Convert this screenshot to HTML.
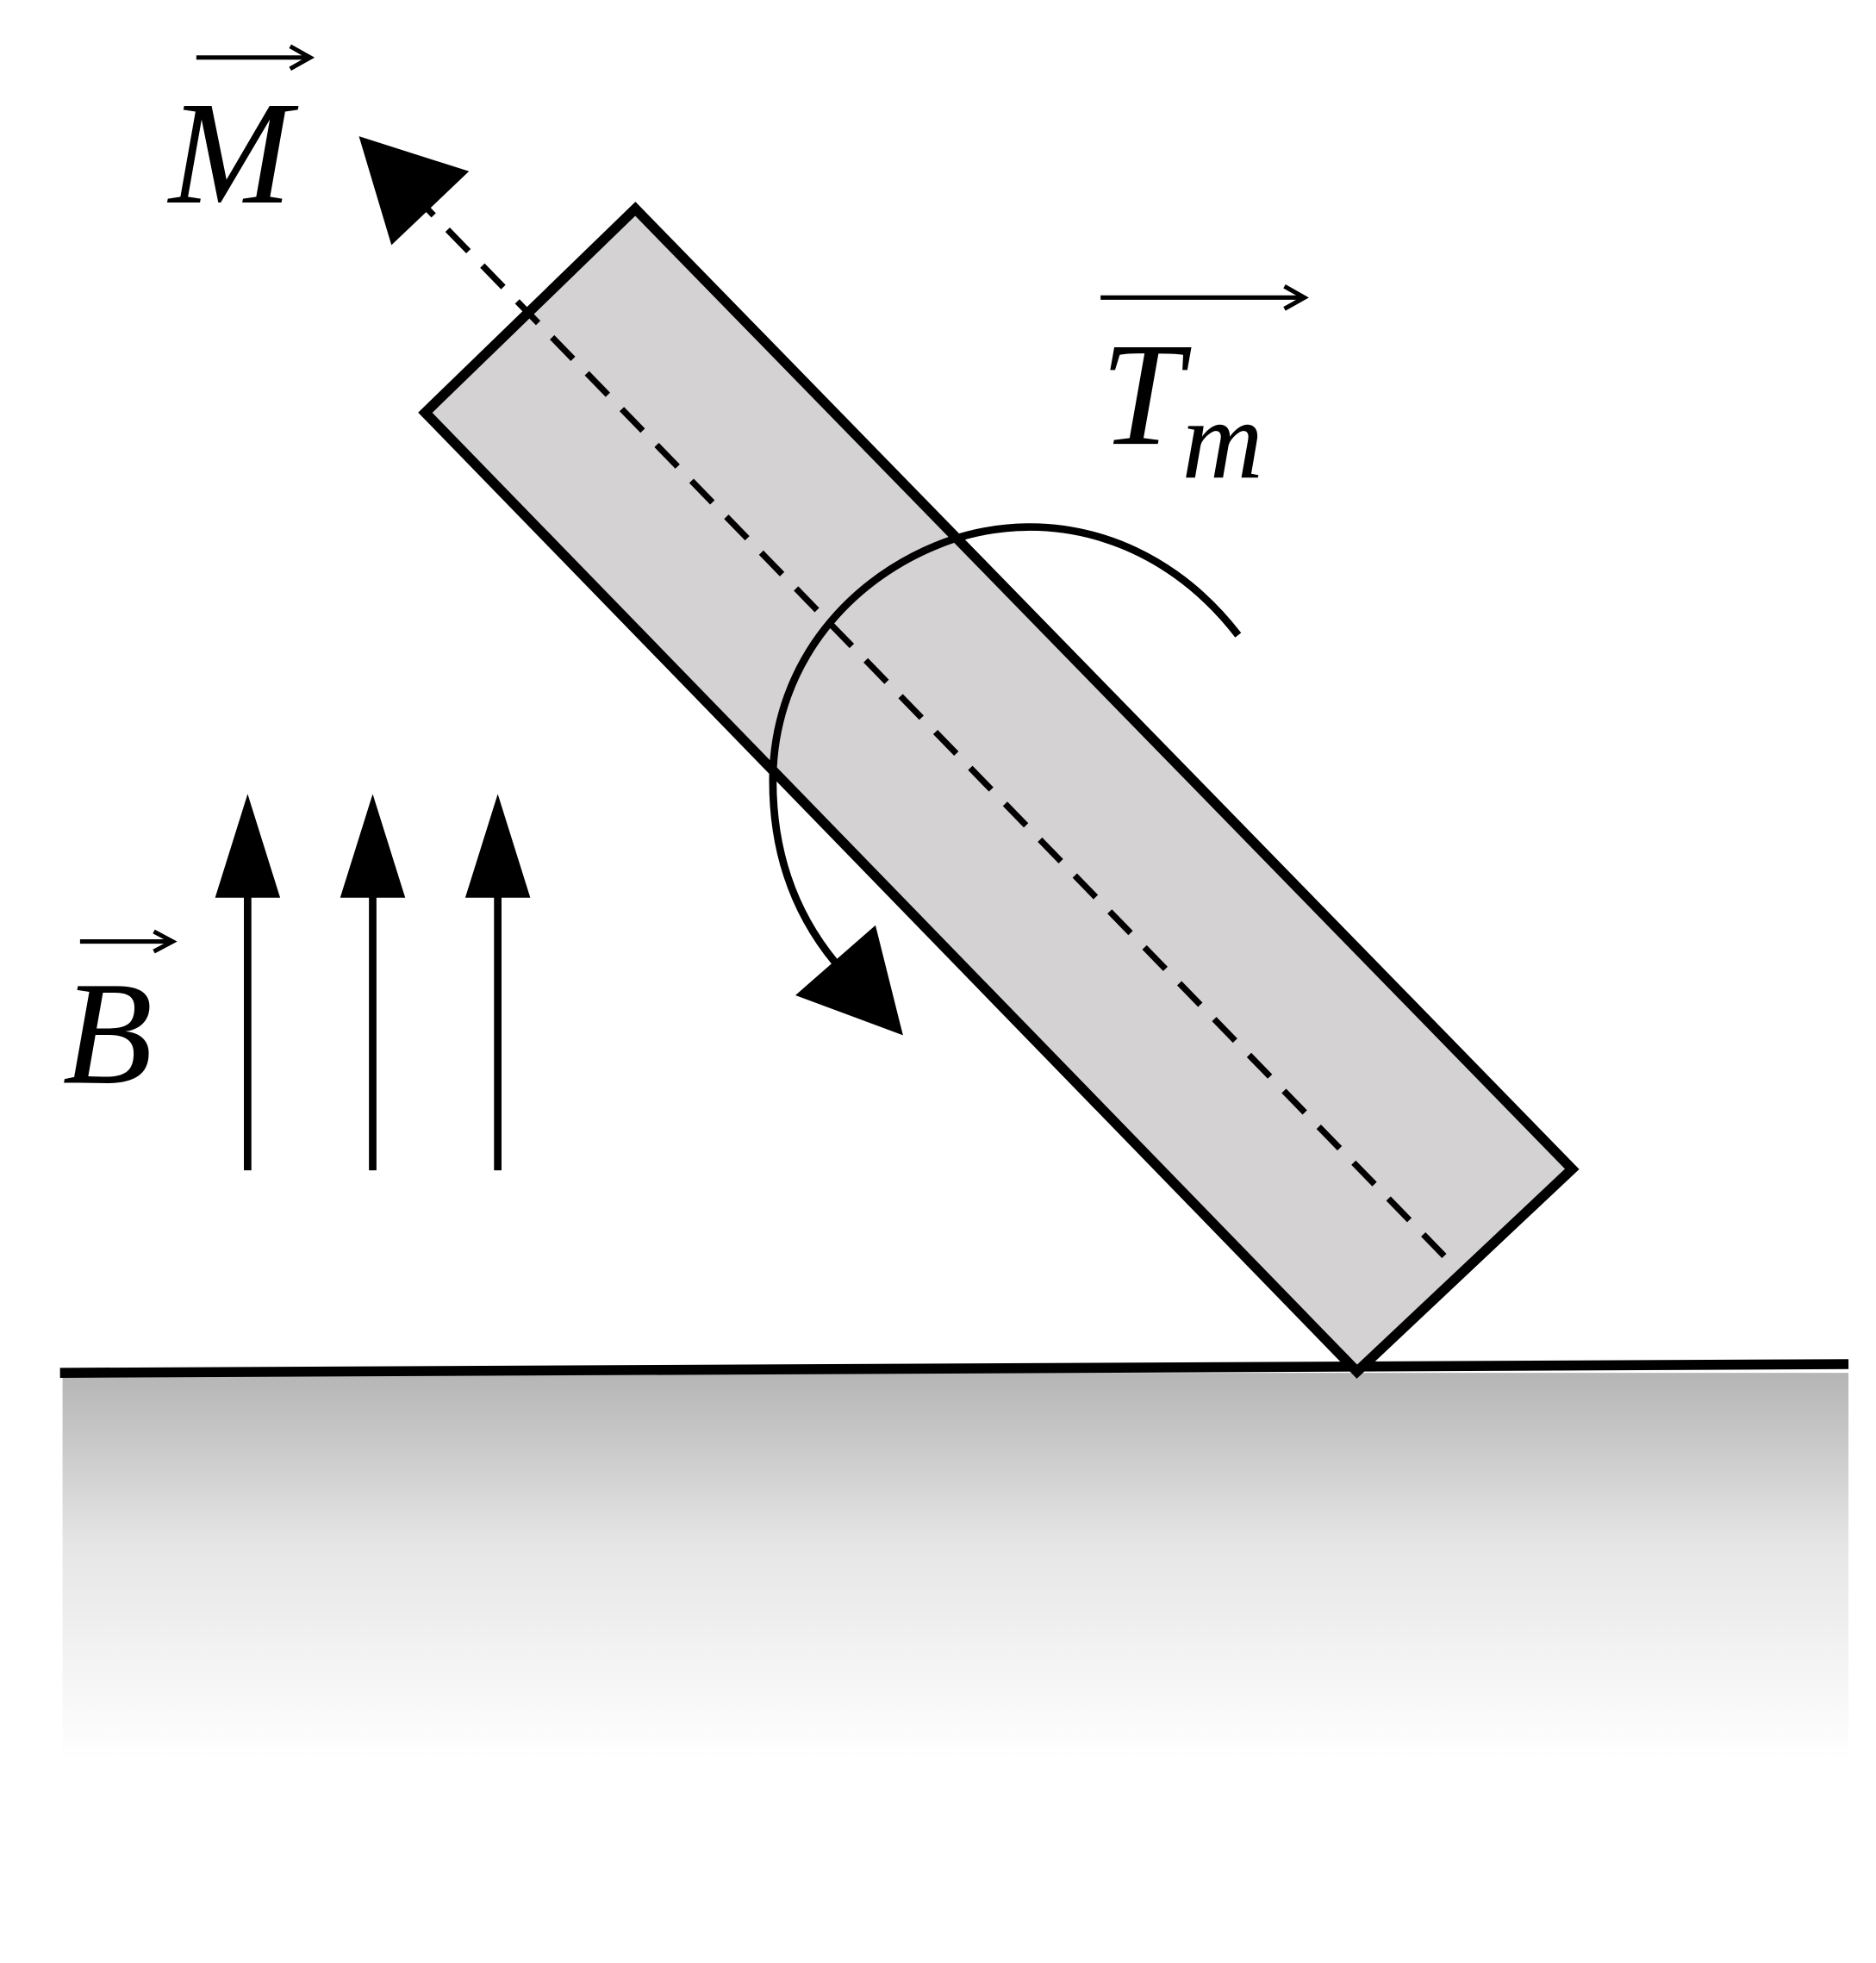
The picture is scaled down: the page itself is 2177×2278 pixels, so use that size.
<!DOCTYPE html>
<html><head><meta charset="utf-8"><style>
html,body{margin:0;padding:0;background:#fff;}
svg{display:block;}
</style></head><body>
<svg width="2177" height="2278" viewBox="0 0 1500 1570" preserveAspectRatio="none" xmlns="http://www.w3.org/2000/svg">
<defs>
<linearGradient id="g" x1="0" y1="0" x2="0" y2="1">
<stop offset="0" stop-color="#b5b5b5"/>
<stop offset="0.45" stop-color="#e6e6e6"/>
<stop offset="1" stop-color="#ffffff"/>
</linearGradient>
</defs>
<rect x="50" y="1098" width="1428" height="310" fill="url(#g)"/>
<line x1="48" y1="1098" x2="1478" y2="1091" stroke="#000" stroke-width="8"/>
<polygon points="508,167 1257,935 1085,1097 340,330" fill="#d5d2d3" stroke="#000" stroke-width="8" stroke-linejoin="miter"/>
<line x1="330" y1="155" x2="1163" y2="1013" stroke="#000" stroke-width="5" stroke-dasharray="24,16"/>
<polygon points="287,109 375,137 313,196" fill="#000"/>
<path d="M990,508 C930,430 840,405 760,432 C680,460 620,530 618,620 C617,680 635,730 668,770" fill="none" stroke="#000" stroke-width="6"/>
<polygon points="722,828 636,796 700,740" fill="#000"/>
<g stroke="#000" stroke-width="6">
<line x1="198" y1="936" x2="198" y2="705"/>
<line x1="298" y1="936" x2="298" y2="705"/>
<line x1="398" y1="936" x2="398" y2="705"/>
</g>
<g fill="#000">
<polygon points="198,635 172,718 224,718"/>
<polygon points="298,635 272,718 324,718"/>
<polygon points="398,635 372,718 424,718"/>
</g>
<g font-family="Liberation Serif, serif" font-style="italic" fill="#000">
<text x="135" y="162" font-size="118">M</text>
<text x="50" y="866" font-size="118">B</text>
<text x="880" y="355" font-size="118">T</text>
<text x="945" y="382" font-size="90">m</text>
</g>
<g stroke="#000" stroke-width="3.5" fill="none">
<line x1="157" y1="46" x2="248" y2="46"/><polyline points="232,37 248,46 232,55"/>
<line x1="64" y1="753" x2="138" y2="753"/><polyline points="123,745 138,753 123,761"/>
<line x1="880" y1="238" x2="1043" y2="238"/><polyline points="1027,229 1043,238 1027,247"/>
</g>
</svg>
</body></html>
